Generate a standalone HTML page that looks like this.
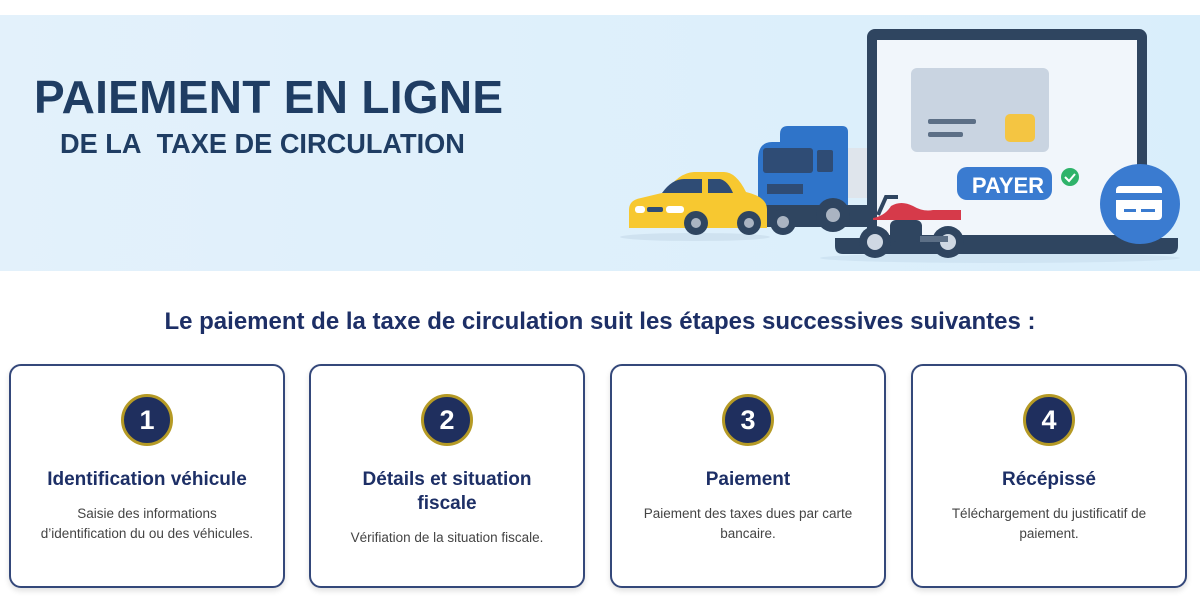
<!DOCTYPE html>
<html><head><meta charset="utf-8"><style>
body{margin:0;width:1200px;height:600px;background:#fff;font-family:"Liberation Sans",sans-serif;position:relative;overflow:hidden}
.banner{position:absolute;left:0;top:15px;width:1200px;height:256px;background:linear-gradient(90deg,#e3f1fb,#d9eefb)}
.t1{position:absolute;left:34px;top:70px;font-size:46px;font-weight:bold;color:#1f3d63;letter-spacing:0.3px}
.t2{position:absolute;left:60px;top:128px;font-size:28px;font-weight:bold;color:#1f3d63;transform:scaleX(0.97);transform-origin:left}
.h{position:absolute;left:0;width:1200px;top:308px;text-align:center;font-size:24px;font-weight:bold;color:#1d2f66}
.card{position:absolute;top:364px;width:272px;height:220px;border:2px solid #34487a;border-radius:12px;box-shadow:0 3px 6px rgba(0,0,0,.12);text-align:center;background:#fff}
.num{width:46px;height:46px;border-radius:50%;background:#1f2f5e;border:3px solid #b59a25;color:#fff;font-size:27px;font-weight:bold;line-height:46px;margin:28px auto 0}
.ct{font-size:19px;font-weight:bold;color:#1d2f66;margin-top:22px;line-height:24px}
.cd{font-size:13.5px;color:#444;margin-top:12px;line-height:20px;padding:0 18px}
</style></head><body>
<div class="banner"></div>
<div class="t1">PAIEMENT EN LIGNE</div>
<div class="t2">DE LA&nbsp; TAXE DE CIRCULATION</div>
<svg style="position:absolute;left:600px;top:0" width="600" height="280">
<ellipse cx="400" cy="258" rx="180" ry="5" fill="#cfe4f3"/>
<ellipse cx="95" cy="237" rx="75" ry="4" fill="#cfe2f0"/>
<rect x="267" y="29" width="280" height="212" rx="8" fill="#2f4560"/>
<rect x="277" y="40" width="260" height="195" fill="#f1f6fb"/>
<path d="M235 238 h343 v8 q0 8-8 8 h-327 q-8 0-8-8z" fill="#2f4560"/>
<rect x="311" y="68" width="138" height="84" rx="6" fill="#c9d4e1"/>
<rect x="328" y="119" width="48" height="5" rx="2" fill="#5c6f86"/>
<rect x="328" y="132" width="35" height="5" rx="2" fill="#5c6f86"/>
<rect x="405" y="114" width="30" height="28" rx="5" fill="#f4c542"/>
<rect x="357" y="167" width="95" height="33" rx="10" fill="#3a7bd0"/>
<text x="408" y="193" font-size="22" font-weight="bold" fill="#fff" text-anchor="middle" font-family="Liberation Sans">PAYER</text>
<circle cx="470" cy="177" r="9" fill="#2fb36a"/>
<path d="M465 177l4 4 6-7" stroke="#fff" stroke-width="2" fill="none"/>
<circle cx="540" cy="204" r="40" fill="#3a7bd0"/>
<rect x="516" y="186" width="46" height="34" rx="4" fill="#fff"/>
<rect x="516" y="193" width="46" height="7" fill="#3a7bd0"/>
<rect x="524" y="209" width="12" height="3" fill="#3a7bd0"/>
<rect x="541" y="209" width="14" height="3" fill="#3a7bd0"/>
<rect x="240" y="148" width="27" height="50" fill="#dfe5ec"/>
<path d="M158 160 q0-18 14-18 h8 v-8 q0-8 8-8 h54 q6 0 6 6 v92 h-90z" fill="#2f74c9"/>
<rect x="163" y="148" width="50" height="25" rx="3" fill="#2f4c75"/>
<rect x="217" y="150" width="16" height="22" rx="2" fill="#2f4c75"/>
<rect x="167" y="184" width="36" height="10" fill="#2f4c75"/>
<rect x="160" y="205" width="107" height="22" fill="#2f4560"/>
<circle cx="183" cy="222" r="13" fill="#2f4560"/><circle cx="183" cy="222" r="6" fill="#aab4c2"/>
<circle cx="233" cy="215" r="17" fill="#2f4560"/><circle cx="233" cy="215" r="7" fill="#aab4c2"/>
<path d="M29 228 v-18 q0-10 12-12 l25-6 q12-19 28-20 h30 q12 0 22 20 q21 5 21 17 v19z" fill="#f7c830"/>
<path d="M62 193 q10-14 22-14 h18 v14z" fill="#2f4c75"/>
<path d="M108 179 h12 q8 2 13 14 h-25z" fill="#2f4c75"/>
<rect x="35" y="206" width="10" height="7" rx="3" fill="#fff"/>
<rect x="47" y="207" width="16" height="5" rx="2" fill="#2f4c75"/>
<rect x="66" y="206" width="18" height="7" rx="3" fill="#fff"/>
<circle cx="96" cy="223" r="12" fill="#2f4560"/><circle cx="96" cy="223" r="5" fill="#aab4c2"/>
<circle cx="149" cy="223" r="12" fill="#2f4560"/><circle cx="149" cy="223" r="5" fill="#aab4c2"/>
<circle cx="275" cy="242" r="16" fill="#2f4560"/><circle cx="275" cy="242" r="8" fill="#cfd8e3"/>
<circle cx="348" cy="242" r="16" fill="#2f4560"/><circle cx="348" cy="242" r="8" fill="#cfd8e3"/>
<path d="M273 218 q12-2 18-12 q10-6 22 0 q10 6 20 4 h28 v10 h-88z" fill="#d63a4a"/>
<path d="M278 215 l8-18 h12" stroke="#2f4560" stroke-width="4" fill="none"/>
<rect x="290" y="220" width="32" height="22" rx="6" fill="#2f4560"/>
<rect x="320" y="236" width="28" height="6" fill="#5c6f86"/>
</svg>
<div class="h">Le paiement de la taxe de circulation suit les étapes successives suivantes :</div>
<div class="card" style="left:9px"><div class="num">1</div><div class="ct">Identification véhicule</div><div class="cd">Saisie des informations<br>d’identification du ou des véhicules.</div></div>
<div class="card" style="left:309px"><div class="num">2</div><div class="ct">Détails et situation<br>fiscale</div><div class="cd">Vérifiation de la situation fiscale.</div></div>
<div class="card" style="left:610px"><div class="num">3</div><div class="ct">Paiement</div><div class="cd">Paiement des taxes dues par carte<br>bancaire.</div></div>
<div class="card" style="left:911px"><div class="num">4</div><div class="ct">Récépissé</div><div class="cd">Téléchargement du justificatif de<br>paiement.</div></div>
</body></html>
